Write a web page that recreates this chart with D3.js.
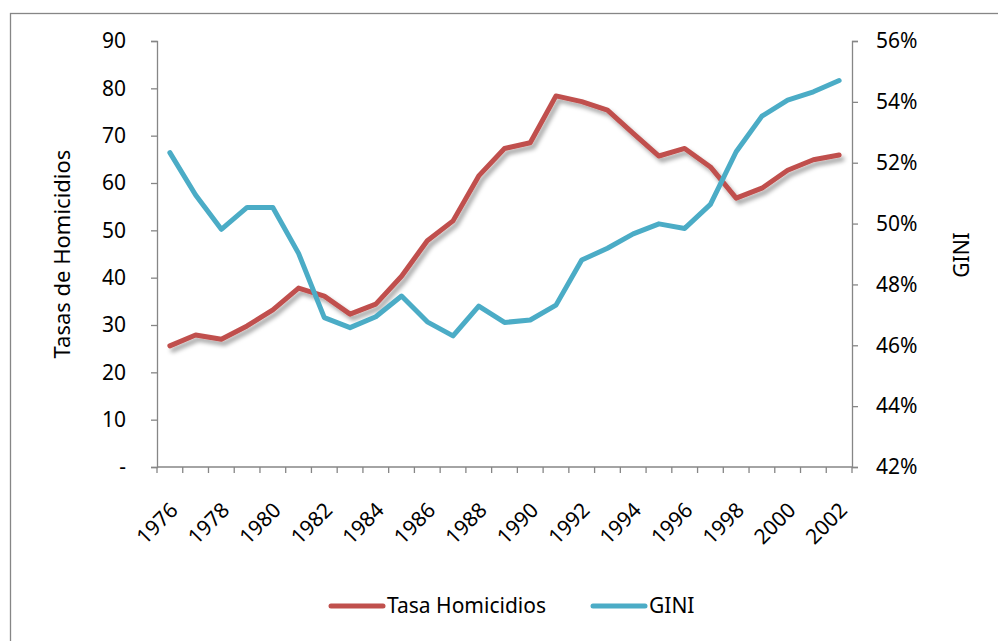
<!DOCTYPE html>
<html>
<head>
<meta charset="utf-8">
<script src="https://cdn.jsdelivr.net/npm/d3@7"></script>
<style>
  body { margin: 0; background: #fff; }
  text { font-family: "Noto Sans", sans-serif; fill: #000; }
</style>
</head>
<body>
<div id="chart"></div>
<script>
// data
var years = [1976,1977,1978,1979,1980,1981,1982,1983,1984,1985,1986,1987,1988,1989,
             1990,1991,1992,1993,1994,1995,1996,1997,1998,1999,2000,2001,2002];
var homicidios = [25.6,27.9,27.0,29.8,33.2,37.8,36.1,32.3,34.4,40.3,47.8,52.0,61.5,67.3,
                  68.5,78.4,77.2,75.4,70.5,65.7,67.3,63.4,56.8,58.9,62.7,64.9,65.9];
var gini = [0.5233,0.5094,0.4981,0.5053,0.5053,0.4902,0.4691,0.4658,0.4694,0.4762,0.4677,0.4631,0.4729,0.4675,
            0.4683,0.4732,0.4880,0.4919,0.4966,0.4999,0.4984,0.5063,0.5236,0.5353,0.5406,0.5433,0.5470];
var leftTicks = [0,10,20,30,40,50,60,70,80,90];
var rightTicks = [0.42,0.44,0.46,0.48,0.50,0.52,0.54,0.56];
var yearLabels = years.filter(function(d){ return d % 2 === 0; });

var W = 998, H = 641;
var axisColor = "#868686";
var red = "#C0504D", blue = "#4BACC6";

var svg = d3.select("#chart").append("svg")
    .attr("width", W)
    .attr("height", H);

// drop shadow for the red series
var defs = svg.append("defs");
var f = defs.append("filter").attr("id","shadow")
    .attr("x","-10%").attr("y","-10%").attr("width","120%").attr("height","130%");
f.append("feDropShadow")
    .attr("dx",3).attr("dy",4).attr("stdDeviation",2)
    .attr("flood-color","#000").attr("flood-opacity",0.35);

// outer frame
svg.append("rect")
    .attr("x",10.5).attr("y",13.5)
    .attr("width",1000).attr("height",700)
    .attr("fill","none").attr("stroke",axisColor).attr("stroke-width",1.3);

var x = d3.scaleBand().domain(years).range([157, 852]).padding(0);
var y = d3.scaleLinear().domain([0, 90]).range([467, 41]);
var y2 = d3.scaleLinear().domain([0.42, 0.56]).range([467, 41]);

// left axis
var yAxisG = svg.append("g")
    .attr("transform","translate(" + x.range()[0] + ",0)")
    .call(d3.axisLeft(y).tickValues(leftTicks).tickSize(6).tickPadding(25)
        .tickFormat(function(d){ return d === 0 ? "-" : d; }));
yAxisG.selectAll("text").attr("font-size",21).attr("font-family","Noto Sans, sans-serif").attr("fill","#000");

// right axis
var y2AxisG = svg.append("g")
    .attr("transform","translate(" + x.range()[1] + ",0)")
    .call(d3.axisRight(y2).tickValues(rightTicks).tickSize(6).tickPadding(18)
        .tickFormat(d3.format(".0%")));
y2AxisG.selectAll("text").attr("font-size",21).attr("font-family","Noto Sans, sans-serif").attr("fill","#000");

// x axis: ticks on band boundaries, labels on even years
var xAxisG = svg.append("g").attr("transform","translate(0," + y.range()[0] + ")");
xAxisG.append("line")
    .attr("x1", x.range()[0]).attr("x2", x.range()[1])
    .attr("stroke", axisColor).attr("stroke-width", 1.3);
var bounds = years.map(function(d){ return x(d); }).concat([x.range()[1]]);
xAxisG.selectAll("line.tk").data(bounds).enter().append("line")
    .attr("class","tk")
    .attr("x1", function(d){ return d; }).attr("x2", function(d){ return d; })
    .attr("y1", 0).attr("y2", 6)
    .attr("stroke", axisColor).attr("stroke-width", 1.3);
xAxisG.selectAll("text").data(yearLabels).enter().append("text")
    .attr("transform", function(d){
        return "translate(" + (x(d) + x.bandwidth()/2 - 1) + ",34) rotate(-45)";
    })
    .attr("text-anchor","end")
    .attr("dy","0.7em")
    .attr("font-size",21)
    .text(function(d){ return d; });

svg.selectAll(".domain, .tick line")
    .attr("stroke", axisColor).attr("stroke-width", 1.3);

// axis titles
svg.append("text")
    .attr("transform","translate(70,254) rotate(-90)")
    .attr("text-anchor","middle")
    .attr("font-size",22)
    .text("Tasas de Homicidios");

svg.append("text")
    .attr("transform","translate(969,255) rotate(-90)")
    .attr("text-anchor","middle")
    .attr("font-size",21)
    .text("GINI");

// lines
var cx = function(i){ return x(years[i]) + x.bandwidth()/2; };

var redLine = d3.line()
    .x(function(d, i){ return cx(i); })
    .y(function(d){ return y(d); });

var blueLine = d3.line()
    .x(function(d, i){ return cx(i); })
    .y(function(d){ return y2(d); });

svg.append("path")
    .datum(homicidios)
    .attr("d", redLine)
    .attr("fill","none")
    .attr("stroke", red)
    .attr("stroke-width", 5)
    .attr("stroke-linejoin","round")
    .attr("stroke-linecap","round")
    .attr("filter","url(#shadow)");

svg.append("path")
    .datum(gini)
    .attr("d", blueLine)
    .attr("fill","none")
    .attr("stroke", blue)
    .attr("stroke-width", 5)
    .attr("stroke-linejoin","round")
    .attr("stroke-linecap","round");

// legend
var legend = [
    { name: "Tasa Homicidios", color: red, x: 331 },
    { name: "GINI", color: blue, x: 593 }
];
var lg = svg.selectAll("g.legend").data(legend).enter().append("g")
    .attr("class","legend")
    .attr("transform", function(d){ return "translate(" + d.x + ",606)"; });
lg.append("line")
    .attr("x1",0).attr("x2",52)
    .attr("stroke", function(d){ return d.color; })
    .attr("stroke-width",5)
    .attr("stroke-linecap","round");
lg.append("text")
    .attr("x",56)
    .attr("dy","0.35em")
    .attr("font-size",21)
    .text(function(d){ return d.name; });
</script>
</body>
</html>
